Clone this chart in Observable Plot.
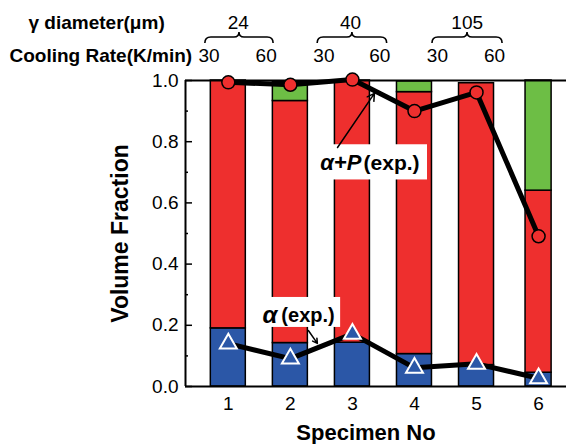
<!DOCTYPE html>
<html>
<head>
<meta charset="utf-8">
<script src="https://cdn.jsdelivr.net/npm/d3@7"></script>
<script src="https://cdn.jsdelivr.net/npm/@observablehq/plot@0.6"></script>
<style>
html,body{margin:0;padding:0;background:#fff;}
svg{display:block;}
</style>
</head>
<body>
<div id="chart"></div>
<script>
// ---- data ----
const specimens = [1, 2, 3, 4, 5, 6];
const alphaFrac = [0.19, 0.142, 0.143, 0.106, 0.07, 0.045];      // blue
const pearliteFrac = [0.81, 0.791, 0.857, 0.856, 0.921, 0.595];  // red
const otherFrac = [0, 0.062, 0, 0.035, 0, 0.36];                 // green
const alphaPExp = [0.994, 0.986, 1.003, 0.90, 0.961, 0.491];     // circles
const alphaExp = [0.14, 0.091, 0.172, 0.061, 0.074, 0.027];      // triangles
const yTicks = [0, 0.2, 0.4, 0.6, 0.8, 1.0];
const yMinorTicks = [0.1, 0.3, 0.5, 0.7, 0.9];
const diameterLabels = ["24", "40", "105"];
const diameterX = [1.16, 2.97, 4.85];
const braceSpans = [[0.63, 1.73], [2.44, 3.56], [4.29, 5.42]];
const rateLabels = ["30", "60", "30", "60", "30", "60"];
const rateX = [0.69, 1.61, 2.54, 3.44, 4.37, 5.29];

const xMin = 0.31, xMax = 6.45;
const halfW = 0.282;

const bars = [];
specimens.forEach((s, i) => {
  const a = alphaFrac[i], p = pearliteFrac[i], o = otherFrac[i];
  const hw = s === 6 ? 0.21 : halfW;
  bars.push({s, hw, y1: 0, y2: a, c: "#2b57a7"});
  bars.push({s, hw, y1: a, y2: a + p, c: "#ee2f2e"});
  if (o > 0) bars.push({s, hw, y1: a + p, y2: a + p + o, c: "#6dbe45"});
});
const ptsAP = specimens.map((s, i) => ({s, v: alphaPExp[i]}));
const ptsA = specimens.map((s, i) => ({s, v: alphaExp[i]}));

const FONT = "Liberation Sans, Arial, Helvetica, sans-serif";

function braceMark(index, scales, values, dimensions) {
  const ns = "http://www.w3.org/2000/svg";
  const g = document.createElementNS(ns, "g");
  braceSpans.forEach(([a, b]) => {
    const x1 = scales.x(a), x2 = scales.x(b), m = (x1 + x2) / 2;
    const yb = 43, yh = 37, yt = 32;
    const d = `M${x1},${yb} Q${x1},${yh} ${x1 + 6},${yh} L${m - 5},${yh} Q${m},${yh} ${m},${yt} Q${m},${yh} ${m + 5},${yh} L${x2 - 6},${yh} Q${x2},${yh} ${x2},${yb}`;
    const path = document.createElementNS(ns, "path");
    path.setAttribute("d", d);
    path.setAttribute("fill", "none");
    path.setAttribute("stroke", "#000");
    path.setAttribute("stroke-width", "1.6");
    g.appendChild(path);
  });
  return g;
}

const chart = Plot.plot({
  width: 566,
  height: 444,
  marginLeft: 185,
  marginRight: 0,
  marginTop: 80,
  marginBottom: 58,
  style: {fontFamily: FONT, background: "#fff", overflow: "visible"},
  x: {domain: [xMin, xMax], axis: null},
  y: {domain: [0, 1], axis: null},
  marks: [
    // bars
    Plot.rect(bars, {
      x1: d => d.s - d.hw, x2: d => d.s + d.hw,
      y1: "y1", y2: "y2", fill: "c", stroke: "#000", strokeWidth: 1.5
    }),
    // frame
    Plot.ruleY([0, 1], {stroke: "#000", strokeWidth: 2}),
    Plot.ruleX([xMin], {y1: 0, y2: 1, stroke: "#000", strokeWidth: 2}),
    // y ticks
    Plot.ruleY(yTicks, {x1: xMin, x2: xMin + 7 / 62, stroke: "#000", strokeWidth: 1.5}),
    Plot.ruleY(yMinorTicks, {x1: xMin, x2: xMin + 3 / 62, stroke: "#000", strokeWidth: 1.5}),
    Plot.text(yTicks, {
      x: xMin, y: d => d, text: d => d.toFixed(1), dx: -7, textAnchor: "end",
      fontSize: 19, fill: "#000"
    }),
    // x tick labels
    Plot.text(specimens, {
      x: d => d, frameAnchor: "bottom", dy: 17, text: d => String(d),
      fontSize: 19, fill: "#000", lineAnchor: "middle"
    }),
    // axis labels
    Plot.text(["Specimen No"], {
      frameAnchor: "bottom", dx: -10, dy: 46, text: d => d,
      fontSize: 22, fontWeight: "bold", fill: "#000", lineAnchor: "middle"
    }),
    Plot.text(["Volume Fraction"], {
      frameAnchor: "left", dx: -65, rotate: -90, text: d => d, textAnchor: "middle",
      fontSize: 23, fontWeight: "bold", fill: "#000", lineAnchor: "middle"
    }),
    // header
    Plot.text(["γ diameter(μm)"], {
      frameAnchor: "top-left", dx: -157, dy: -58, text: d => d, textAnchor: "start",
      fontSize: 19, fontWeight: "bold", fill: "#000", lineAnchor: "middle"
    }),
    Plot.text(["Cooling Rate(K/min)"], {
      frameAnchor: "top-left", dx: -176, dy: -25, text: d => d, textAnchor: "start",
      fontSize: 19, fontWeight: "bold", fill: "#000", lineAnchor: "middle"
    }),
    Plot.text(diameterLabels, {
      x: (d, i) => diameterX[i], frameAnchor: "top", dy: -58, text: d => d,
      fontSize: 19, fill: "#000", lineAnchor: "middle"
    }),
    Plot.text(rateLabels, {
      x: (d, i) => rateX[i], frameAnchor: "top", dy: -25, text: d => d,
      fontSize: 19, fill: "#000", lineAnchor: "middle"
    }),
    braceMark,
    // experimental lines
    Plot.line(ptsAP, {x: "s", y: "v", stroke: "#000", strokeWidth: 5}),
    Plot.line(ptsA, {x: "s", y: "v", stroke: "#000", strokeWidth: 5}),
    Plot.dot(ptsAP, {x: "s", y: "v", r: 6.5, fill: "#ee2f2e", stroke: "#000", strokeWidth: 1.5}),
    Plot.dot(ptsA, {x: "s", y: "v", r: 6.3, symbol: "triangle", fill: "#2b57a7", stroke: "#fff", strokeWidth: 2}),
    // annotations
    Plot.rect([{x1: 2.45, x2: 4.21, y1: 0.675, y2: 0.79}, {x1: 1.47, x2: 2.81, y1: 0.193, y2: 0.291}], {
      x1: "x1", x2: "x2", y1: "y1", y2: "y2", fill: "#fff"
    }),
    Plot.text(["α+P"], {
      x: 2.48, y: 0.729, text: d => d, textAnchor: "start", fontSize: 22,
      fontWeight: "bold", fontStyle: "italic", fill: "#000", lineAnchor: "middle"
    }),
    Plot.text(["(exp.)"], {
      x: 3.18, y: 0.729, text: d => d, textAnchor: "start", fontSize: 21,
      fontWeight: "bold", fill: "#000", lineAnchor: "middle"
    }),
    Plot.text(["α"], {
      x: 1.55, y: 0.232, text: d => d, textAnchor: "start", fontSize: 24,
      fontWeight: "bold", fontStyle: "italic", fill: "#000", lineAnchor: "middle"
    }),
    Plot.text(["(exp.)"], {
      x: 1.855, y: 0.232, text: d => d, textAnchor: "start", fontSize: 20,
      fontWeight: "bold", fill: "#000", lineAnchor: "middle"
    }),
    Plot.arrow([{x1: 2.76, y1: 0.781, x2: 3.355, y2: 0.958}, {x1: 2.29, y1: 0.183, x2: 2.435, y2: 0.141}], {
      x1: "x1", y1: "y1", x2: "x2", y2: "y2", stroke: "#000", strokeWidth: 1.5, headLength: 8
    })
  ]
});
document.getElementById("chart").appendChild(chart);
</script>
</body>
</html>
